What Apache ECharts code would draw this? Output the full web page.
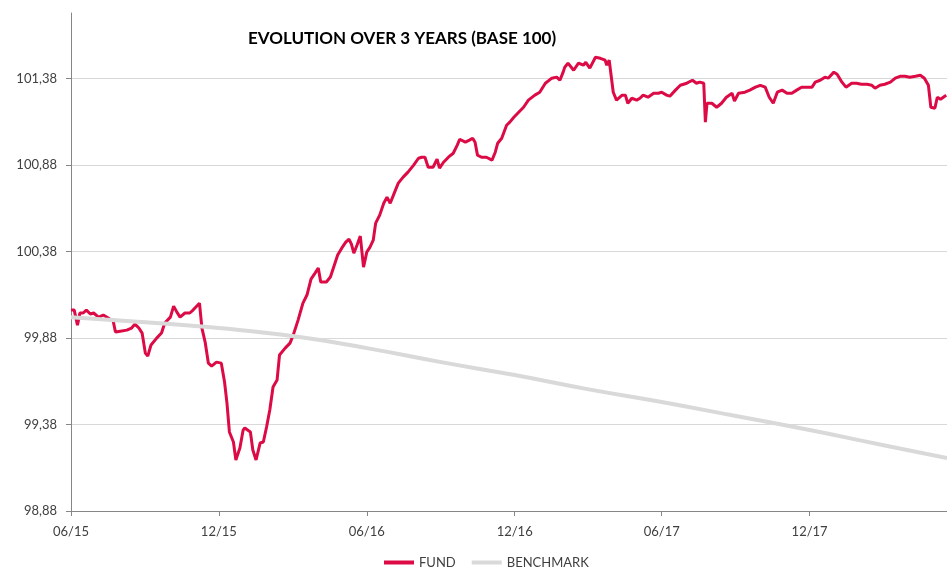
<!DOCTYPE html>
<html>
<head>
<meta charset="utf-8">
<script src="https://cdn.jsdelivr.net/npm/echarts@6/dist/echarts.min.js"></script>
<style>
  html, body { margin: 0; padding: 0; background: #fff; }
  #chart { width: 947px; height: 567px; }
</style>
</head>
<body>
<div id="chart"></div>
<script>
// fund, base 100
const fundDates = [
  '2015-06-01','2015-06-05','2015-06-09','2015-06-12','2015-06-16','2015-06-20','2015-06-25','2015-06-29',
  '2015-07-05','2015-07-11','2015-07-19','2015-07-23','2015-07-26','2015-08-01','2015-08-09','2015-08-15',
  '2015-08-19','2015-08-24','2015-08-28','2015-09-01','2015-09-04','2015-09-08','2015-09-15','2015-09-21',
  '2015-09-25','2015-10-02','2015-10-06','2015-10-10','2015-10-14','2015-10-20','2015-10-26','2015-10-30',
  '2015-11-07','2015-11-10','2015-11-14','2015-11-18','2015-11-22','2015-11-28','2015-12-04','2015-12-08',
  '2015-12-11','2015-12-14','2015-12-19','2015-12-22','2015-12-27','2015-12-31','2016-01-02','2016-01-09',
  '2016-01-12','2016-01-16','2016-01-21','2016-01-25','2016-01-29','2016-02-02','2016-02-06','2016-02-11',
  '2016-02-14','2016-02-21','2016-02-27','2016-03-02','2016-03-08','2016-03-14','2016-03-19','2016-03-24',
  '2016-03-29','2016-04-02','2016-04-05','2016-04-12','2016-04-17','2016-04-21','2016-04-26','2016-05-01',
  '2016-05-06','2016-05-10','2016-05-13','2016-05-16','2016-05-20','2016-05-24','2016-05-28','2016-06-01',
  '2016-06-05','2016-06-09','2016-06-12','2016-06-17','2016-06-22','2016-06-26','2016-06-30','2016-07-05',
  '2016-07-10','2016-07-16','2016-07-22','2016-07-29','2016-08-04','2016-08-08','2016-08-12','2016-08-16',
  '2016-08-22','2016-08-27','2016-08-30','2016-09-04','2016-09-10','2016-09-16','2016-09-21','2016-09-24',
  '2016-10-01','2016-10-06','2016-10-10','2016-10-13','2016-10-16','2016-10-21','2016-10-27','2016-11-03',
  '2016-11-07','2016-11-10','2016-11-15','2016-11-21','2016-11-25','2016-11-30','2016-12-06','2016-12-12',
  '2016-12-18','2016-12-26','2017-01-01','2017-01-08','2017-01-16','2017-01-22','2017-01-26','2017-01-30',
  '2017-02-01','2017-02-05','2017-02-12','2017-02-18','2017-02-24','2017-02-27','2017-03-04','2017-03-11',
  '2017-03-17','2017-03-23','2017-03-25','2017-03-28','2017-04-02','2017-04-06','2017-04-13','2017-04-17',
  '2017-04-20','2017-04-25','2017-05-01','2017-05-05','2017-05-09','2017-05-15','2017-05-22','2017-05-28',
  '2017-06-01','2017-06-07','2017-06-11','2017-06-18','2017-06-24','2017-07-02','2017-07-09','2017-07-14',
  '2017-07-18','2017-07-23','2017-07-25','2017-07-27','2017-08-02','2017-08-08','2017-08-14','2017-08-20',
  '2017-08-27','2017-08-30','2017-09-04','2017-09-12','2017-09-18','2017-09-25','2017-10-01','2017-10-07',
  '2017-10-12','2017-10-17','2017-10-22','2017-10-28','2017-11-03','2017-11-09','2017-11-15','2017-11-21',
  '2017-11-27','2017-12-04','2017-12-08','2017-12-14','2017-12-20','2017-12-24','2017-12-31','2018-01-04',
  '2018-01-10','2018-01-15','2018-01-22','2018-01-28','2018-02-03','2018-02-10','2018-02-16','2018-02-20',
  '2018-02-26','2018-03-04','2018-03-11','2018-03-17','2018-03-23','2018-03-29','2018-04-04','2018-04-11',
  '2018-04-17','2018-04-22','2018-04-27','2018-04-30','2018-05-05','2018-05-08','2018-05-12','2018-05-19'
];
const fundValues = [
  100.042,100.042,99.955,100.025,100.025,100.042,100.019,100.025,
  100.001,100.013,99.990,99.984,99.915,99.920,99.926,99.938,
  99.961,99.938,99.909,99.793,99.776,99.840,99.880,99.909,
  99.967,100.001,100.065,100.030,100.001,100.025,100.025,100.042,
  100.082,99.938,99.857,99.735,99.718,99.741,99.735,99.626,
  99.504,99.337,99.279,99.175,99.244,99.348,99.360,99.337,
  99.233,99.175,99.273,99.279,99.366,99.464,99.597,99.637,
  99.782,99.822,99.851,99.897,99.984,100.082,100.129,100.221,
  100.256,100.285,100.204,100.204,100.233,100.290,100.360,100.400,
  100.435,100.452,100.423,100.371,100.418,100.470,100.290,100.377,
  100.406,100.446,100.545,100.591,100.660,100.695,100.660,100.718,
  100.776,100.811,100.840,100.880,100.920,100.926,100.926,100.868,
  100.868,100.915,100.863,100.897,100.926,100.949,100.996,101.030,
  101.013,101.025,101.036,101.013,100.938,100.926,100.926,100.909,
  100.955,101.007,101.036,101.111,101.129,101.157,101.186,101.215,
  101.256,101.285,101.302,101.354,101.383,101.389,101.371,101.418,
  101.446,101.470,101.429,101.470,101.458,101.475,101.441,101.504,
  101.498,101.487,101.458,101.487,101.302,101.256,101.285,101.285,
  101.238,101.267,101.256,101.267,101.285,101.273,101.296,101.296,
  101.302,101.285,101.279,101.314,101.342,101.354,101.371,101.354,
  101.360,101.354,101.129,101.238,101.238,101.215,101.238,101.273,
  101.296,101.250,101.296,101.302,101.314,101.331,101.342,101.331,
  101.273,101.238,101.302,101.314,101.296,101.296,101.314,101.331,
  101.331,101.331,101.360,101.371,101.389,101.383,101.418,101.406,
  101.360,101.331,101.354,101.354,101.348,101.348,101.342,101.325,
  101.342,101.348,101.360,101.383,101.394,101.394,101.389,101.394,
  101.400,101.383,101.342,101.215,101.209,101.273,101.261,101.285
];

// benchmark, base 100
const benchDates = [
  '2015-06-01','2015-09-01','2015-12-01','2016-03-01','2016-06-01','2016-09-01','2016-12-01',
  '2017-03-01','2017-06-01','2017-09-01','2017-12-01','2018-03-01','2018-05-20'
];
const benchValues = [
  100.001,99.972,99.938,99.892,99.822,99.741,99.666,
  99.585,99.510,99.429,99.348,99.262,99.186
];

const xTickDates = ['2015-06-01','2015-12-01','2016-06-01','2016-12-01','2017-06-01','2017-12-01'];
const yTicks = [98.88, 99.38, 99.88, 100.38, 100.88, 101.38];

const xMin = '2015-06-01';
const xMax = '2018-05-20';

const FONT = 'Lato';
const toTs = (s) => Date.UTC(+s.slice(0, 4), +s.slice(5, 7) - 1, +s.slice(8, 10));
const pair = (dates, vals) => dates.map((d, i) => [toTs(d), vals[i]]);

const chart = echarts.init(document.getElementById('chart'), null, { renderer: 'canvas' });

chart.setOption({
  animation: false,
  backgroundColor: '#fff',
  title: {
    text: 'EVOLUTION OVER 3 YEARS (BASE 100)',
    left: 243,
    top: 25,
    textStyle: { fontFamily: FONT, fontSize: 17, fontWeight: 'bold', color: '#000' }
  },
  legend: {
    top: 551,
    left: 379,
    icon: 'rect',
    itemWidth: 30,
    itemHeight: 4,
    itemGap: 16,
    textStyle: { fontFamily: FONT, fontSize: 13, color: '#404040' },
    data: ['FUND', 'BENCHMARK']
  },
  grid: { left: 71, right: 0, top: 13, bottom: 56 },
  xAxis: {
    type: 'value',
    min: toTs(xMin),
    max: toTs(xMax),
    axisLine: { lineStyle: { color: '#868686', width: 1 } },
    axisTick: {
      show: true, length: 5,
      customValues: xTickDates.map(toTs),
      lineStyle: { color: '#868686' }
    },
    axisLabel: {
      customValues: xTickDates.map(toTs),
      margin: 14,
      fontFamily: FONT, fontSize: 13, color: '#404040',
      formatter: (v) => {
        const d = new Date(v);
        const mm = String(d.getUTCMonth() + 1).padStart(2, '0');
        const yy = String(d.getUTCFullYear()).slice(2);
        return mm + '/' + yy;
      }
    },
    splitLine: { show: false }
  },
  yAxis: {
    type: 'value',
    min: 98.88,
    max: 101.76,
    interval: 0.5,
    axisLine: { show: true, lineStyle: { color: '#868686', width: 1 } },
    axisTick: {
      show: true, length: 5,
      customValues: yTicks,
      lineStyle: { color: '#868686' }
    },
    axisLabel: {
      customValues: yTicks,
      margin: 14,
      fontFamily: FONT, fontSize: 13, color: '#404040',
      formatter: (v) => v.toFixed(2).replace('.', ',')
    },
    splitLine: {
      show: true,
      lineStyle: { color: '#d9d9d9', width: 1 }
    }
  },
  series: [
    {
      name: 'FUND',
      type: 'line',
      data: pair(fundDates, fundValues),
      showSymbol: false,
      lineStyle: { color: '#dc0a45', width: 3 },
      itemStyle: { color: '#dc0a45' },
      z: 2
    },
    {
      name: 'BENCHMARK',
      type: 'line',
      data: pair(benchDates, benchValues),
      showSymbol: false,
      smooth: true,
      lineStyle: { color: '#d9d9d9', width: 4 },
      itemStyle: { color: '#d9d9d9' },
      z: 3
    }
  ]
});
</script>
</body>
</html>
